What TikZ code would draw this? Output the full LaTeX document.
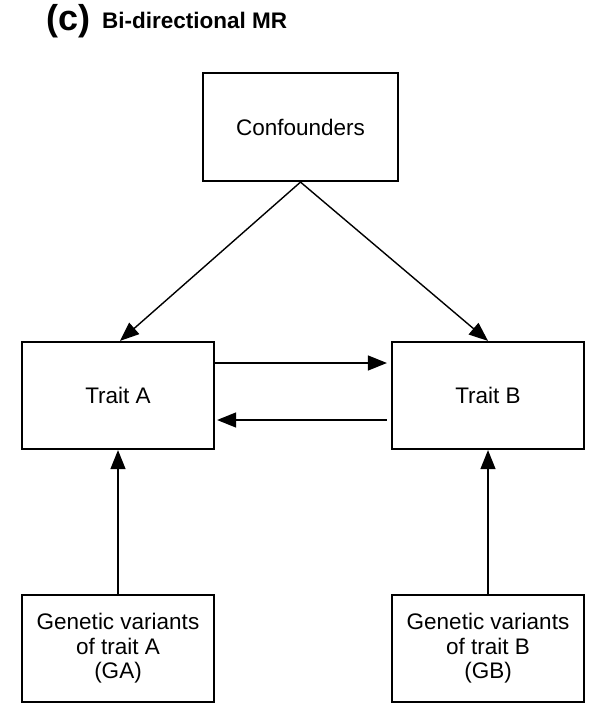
\documentclass[tikz,border=0pt]{standalone}
\usepackage{fontspec}
\setmainfont{Liberation Sans}
\usetikzlibrary{arrows.meta}
\begin{document}
\begin{tikzpicture}[x=1pt,y=-1pt,
  box/.style={draw, line width=2.2pt, minimum width=192pt, minimum height=107pt, inner sep=0pt, align=center, font=\fontsize{22.5}{24.5}\selectfont},
  arr/.style={line width=1.4pt, -{Triangle[length=19pt,width=15pt]}}]
\useasboundingbox (0,0) rectangle (607,714);
\node[anchor=base west, font=\bfseries\fontsize{36}{36}\selectfont, inner sep=0pt] (lbl) at (46,31) {(c)};
\node[anchor=base west, font=\bfseries\fontsize{22.5}{24}\selectfont, inner sep=0pt] (ttl) at (102,29) {Bi-directional MR};
\node[box, minimum width=195pt, minimum height=108pt] (conf) at (300.5,127) {Confounders};
\node[box] (ta) at (118,395.5) {Trait A};
\node[box] (tb) at (488,395.5) {Trait B};
\node[box] (ga) at (118,648.5) {Genetic variants\\of trait A\\(GA)};
\node[box] (gb) at (488,648.5) {Genetic variants\\of trait B\\(GB)};
\draw[arr] (conf.south) -- ([xshift=2pt]ta.north);
\draw[arr] (conf.south) -- (tb.north);
\draw[arr] ([yshift=32.5pt]ta.east) -- ([yshift=32.5pt,xshift=-4pt]tb.west);
\draw[arr] ([yshift=-24.5pt,xshift=-4pt]tb.west) -- ([yshift=-24.5pt,xshift=2pt]ta.east);
\draw[arr] (ga.north) -- (ta.south);
\draw[arr] (gb.north) -- (tb.south);
\end{tikzpicture}
\end{document}
